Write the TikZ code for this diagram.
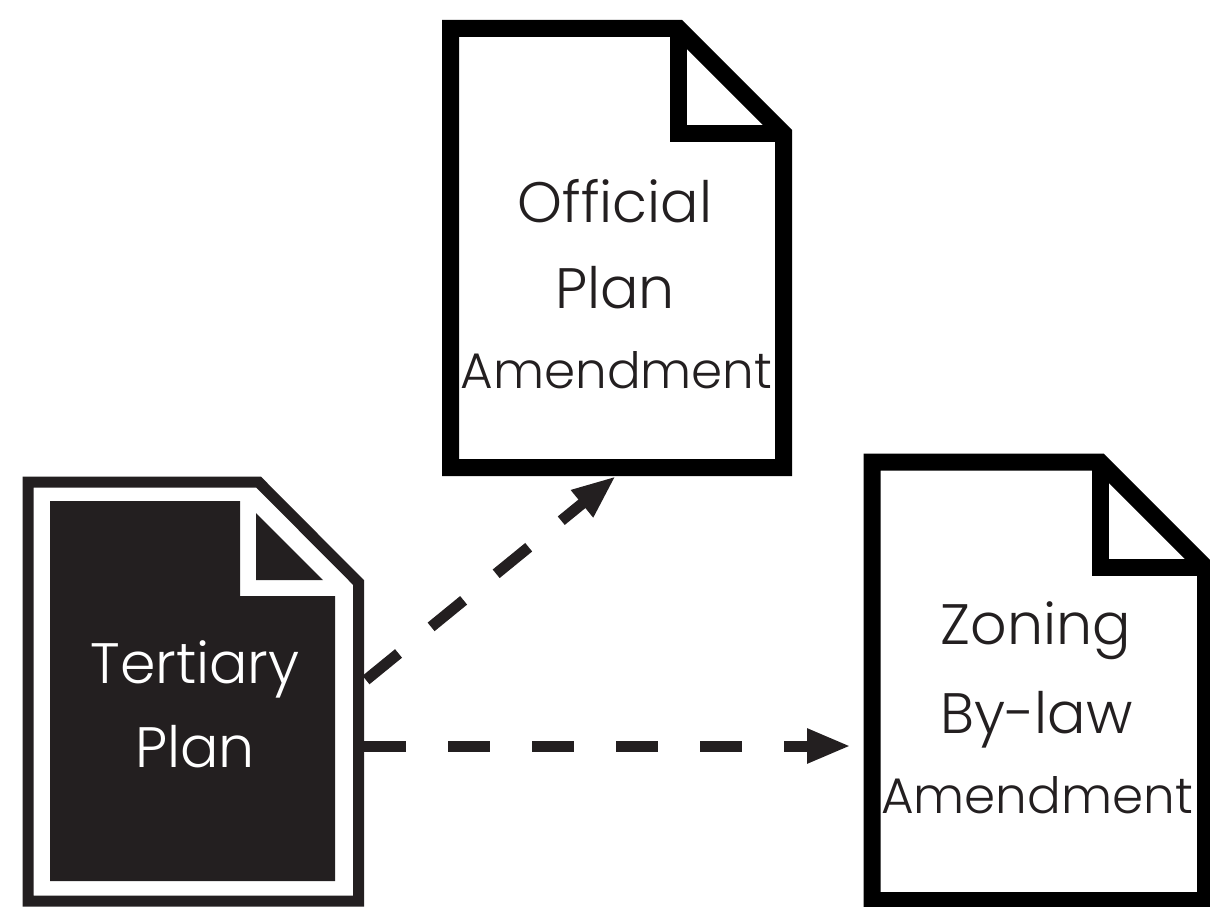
\documentclass[tikz,border=0pt]{standalone}
\usepackage{fontspec}
\setmainfont{Poppins Light}
\usetikzlibrary{arrows.meta}
\definecolor{inkblack}{HTML}{231F20}
\tikzset{
	docline/.style={line width=17pt, miter limit=10},
	docframe/.style={line width=11pt, inkblack},
	planarrow/.style={line width=11pt, inkblack, dash pattern=on 42pt off 42pt, -{Triangle[length=44pt, width=32pt]}},
	doctext/.style={text=inkblack, anchor=base, inner sep=0pt},
	bigtext/.style={font=\fontsize{57}{57}\selectfont},
	smalltext/.style={font=\fontsize{50}{50}\selectfont},
}
\begin{document}
\begin{tikzpicture}[x=1pt, y=-1pt]
	\useasboundingbox (0,0) rectangle (1210,907);
	% tertiary plan, filled sheet inside a thin frame
	\draw[docframe] (28,482) -- (258.5,482) -- (358.5,582.5) -- (358.5,901) -- (28,901) -- cycle;
	\fill[inkblack] (50,501) -- (240,501) -- (240,596) -- (335,596) -- (335,881) -- (50,881) -- cycle;
	\fill[inkblack] (256,513) -- (323,580) -- (256,580) -- cycle;
	\node[doctext, bigtext, text=white] (tertiaryA) at (195,683) {Tertiary};
	\node[doctext, bigtext, text=white] (tertiaryB) at (195,767) {Plan};
	% official plan amendment
	\draw[docline] (450.5,28.5) -- (678.5,28.5) -- (783.5,133.5) -- (783.5,467.5) -- (450.5,467.5) -- cycle;
	\draw[docline] (678.5,28.5) -- (678.5,133.5) -- (783.5,133.5);
	\node[doctext, bigtext] (officialA) at (615,222) {Official};
	\node[doctext, bigtext] (officialB) at (615,308) {Plan};
	\node[doctext, smalltext] (officialC) at (616.5,388) {Amendment};
	% zoning by-law amendment
	\draw[docline] (872,462) -- (1100,462) -- (1205.5,567.5) -- (1205.5,900.5) -- (872,900.5) -- cycle;
	\draw[docline] (1100,462) -- (1100,567.5) -- (1205.5,567.5);
	\node[doctext, bigtext] (zoningA) at (1036,644) {Zoning};
	\node[doctext, bigtext] (zoningB) at (1036.5,733) {By-law};
	\node[doctext, smalltext] (zoningC) at (1037,813) {Amendment};
	% arrows between the plans
	\coordinate (tertiaryNE) at (366,680);
	\coordinate (tertiaryE) at (364,746);
	\coordinate (officialS) at (616,476);
	\coordinate (zoningW) at (851,746);
	\draw[planarrow] (tertiaryNE) -- (officialS);
	\draw[planarrow] (tertiaryE) -- (zoningW);
\end{tikzpicture}
\end{document}
